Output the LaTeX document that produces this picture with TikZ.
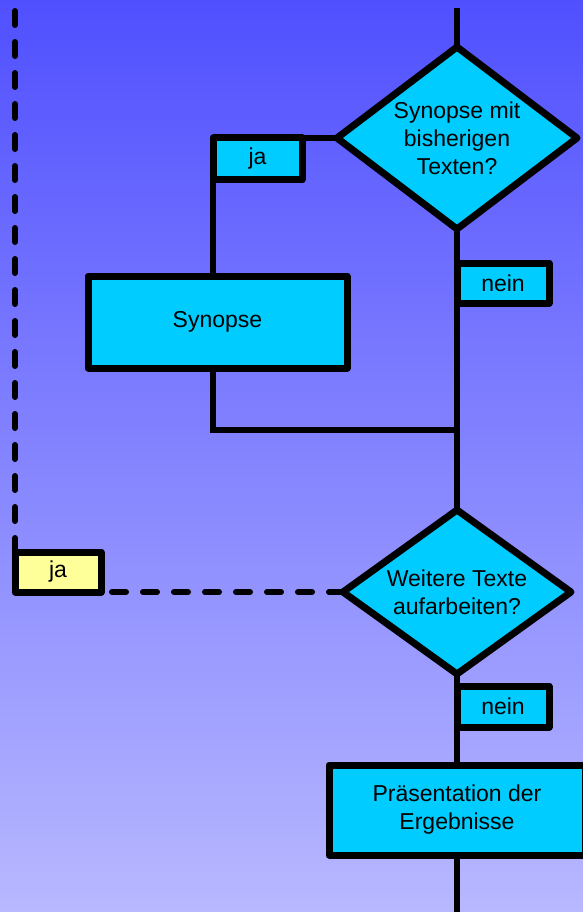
\documentclass[tikz,border=0pt]{standalone}
\usepackage{fontspec}
\setmainfont{Liberation Sans}
\usepackage{tikz}
\usetikzlibrary{shapes.geometric,backgrounds}

\definecolor{boxcyan}{HTML}{00CCFF}
\definecolor{labelyellow}{HTML}{FFFF99}
\definecolor{bgtop}{RGB}{80,80,255}
\definecolor{bgbottom}{RGB}{184,184,255}

\begin{document}
\begin{tikzpicture}[
  x=1pt, y=-1pt,
  font=\fontsize{23}{28}\selectfont,
  every node/.style={outer sep=0pt},
  process/.style={draw, fill=boxcyan, line width=7pt, line join=round, align=center, inner sep=0pt},
  decision/.style={diamond, draw, fill=boxcyan, line width=7pt, line join=round, inner sep=0pt},
  answer/.style={draw, fill=boxcyan, line width=7pt, line join=round, inner sep=0pt, minimum width=92pt, minimum height=40pt},
  flow/.style={line width=6pt},
  loopback/.style={line width=6pt, line cap=round, dash pattern=on 14pt off 17pt}
]
\useasboundingbox (0,0) rectangle (583,912);
\begin{scope}[on background layer]
  \shade[top color=bgtop, bottom color=bgbottom] (0,0) rectangle (583,912);
\end{scope}

\coordinate (start) at (457,8);
\coordinate (join) at (457,430);
\coordinate (loop) at (15,8);
\coordinate (finish) at (457,912);

% first question
\node[decision, minimum width=240pt, minimum height=182pt,
  label={[align=center]center:Synopse mit\\bisherigen\\Texten?}] (synq) at (457,138) {};
\node[answer, minimum width=89pt, minimum height=42pt] (ja1) at (257.5,159) {ja};
\node[answer] (nein1) at (503,283) {nein};
\node[process, minimum width=259pt, minimum height=92pt] (synopse) at (217.5,322) {Synopse};

% second question
\node[decision, minimum width=228pt, minimum height=164pt,
  label={[align=center]center:Weitere Texte\\aufarbeiten?}] (moreq) at (457,592) {};
\node[answer, fill=labelyellow, minimum width=86pt] (ja2) at (58,572) {ja};
\node[answer, minimum height=41pt] (nein2) at (503,706.5) {nein};
\node[process, minimum width=256pt, minimum height=90pt] (praes) at (457,810) {Präsentation der\\Ergebnisse};

% connectors behind the boxes
\begin{scope}[on background layer]
  \draw[flow] (start) -- (synq.north);
  \draw[flow] (synq.west) -- (ja1.north east);
  \draw[flow] (ja1.south west) -- (ja1.south west |- synopse.north);
  \draw[flow] (ja1.west |- synopse.south) -- (ja1.west |- join) -- (join);
  \draw[flow] (synq.south) -- (moreq.north);
  \draw[flow] (moreq.south) -- (praes.north);
  \draw[flow] (praes.south) -- (finish);
  \draw[loopback] (moreq.west) -- (ja2.south east);
  \draw[loopback] (ja2.north west) -- (loop);
\end{scope}
\end{tikzpicture}
\end{document}
